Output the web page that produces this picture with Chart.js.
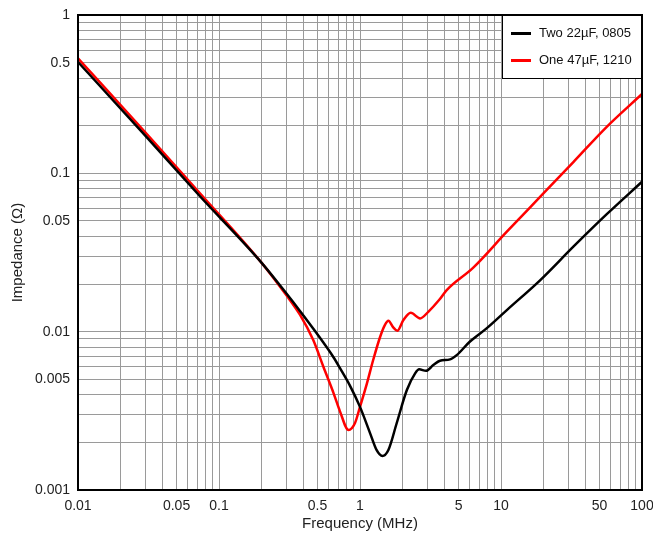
<!DOCTYPE html>
<html><head><meta charset="utf-8">
<script src="https://cdn.jsdelivr.net/npm/chart.js@4.4.0/dist/chart.umd.min.js"></script>
<style>html,body{margin:0;padding:0;background:#fff}</style>
</head><body>
<canvas id="c" width="653" height="535"></canvas>
<script>
const seriesNames = ['Two 22µF, 0805', 'One 47µF, 1210'];
const seriesColors = ['#000000', '#ff0000'];

const freqBlack = [0.01, 0.03, 0.073, 0.2, 0.3, 0.375, 0.49, 0.65, 0.72, 0.85, 1.0, 1.18, 1.31, 1.44, 1.59, 1.82, 2.15, 2.46, 2.63, 2.94, 3.31, 3.69, 4.35, 4.85, 6.0, 7.9, 11, 19, 32.6, 56, 100];
const zBlack = [0.505, 0.173, 0.0719, 0.0273, 0.01746, 0.01351, 0.00983, 0.00687, 0.00590, 0.00455, 0.00335, 0.00228, 0.00179, 0.00164, 0.00179, 0.00264, 0.00428, 0.00545, 0.00578, 0.00566, 0.00615, 0.00655, 0.00668, 0.00711, 0.00864, 0.01049, 0.01369, 0.02118, 0.0344, 0.0550, 0.0885];

const freqRed = [0.01, 0.03, 0.073, 0.2, 0.3, 0.375, 0.466, 0.55, 0.65, 0.72, 0.83, 0.92, 1.0, 1.12, 1.24, 1.39, 1.5, 1.59, 1.72, 1.84, 2.03, 2.29, 2.67, 3.05, 3.65, 4.12, 6.36, 11, 19, 32.6, 56, 100];
const zRed = [0.533, 0.1816, 0.0751, 0.0273, 0.01703, 0.0128, 0.00885, 0.0060, 0.00408, 0.00315, 0.00239, 0.00264, 0.00335, 0.00471, 0.00662, 0.00929, 0.0110, 0.01172, 0.01065, 0.01013, 0.01184, 0.01316, 0.01213, 0.01335, 0.0159, 0.01832, 0.0254, 0.0428, 0.0712, 0.1178, 0.196, 0.317];

const xTickLabels = ['0.01', '0.05', '0.1', '0.5', '1', '5', '10', '50', '100'];
const yTickLabels = ['0.001', '0.005', '0.01', '0.05', '0.1', '0.5', '1'];
const xRange = [0.01, 100];
const yRange = [0.001, 1];

function logGridTicks(min, max) {
  const t = [];
  for (let e = Math.floor(Math.log10(min)); e <= Math.ceil(Math.log10(max)); e++) {
    for (let m = 1; m <= 9; m++) {
      const v = m * Math.pow(10, e);
      if (v >= min * 0.9999 && v <= max * 1.0001) t.push({ value: v });
    }
  }
  return t;
}
function labelFor(v, labels) {
  for (const l of labels) {
    if (Math.abs(Math.log10(parseFloat(l)) - Math.log10(v)) < 1e-6) return l;
  }
  return '';
}
function pts(xs, ys) { return xs.map((x, i) => ({ x: x, y: ys[i] })); }

const FONT = '"Liberation Sans", Arial, Helvetica, sans-serif';
Chart.defaults.font.family = FONT;

const framePlugin = {
  id: 'frame',
  afterDatasetsDraw(chart) {
    const { ctx, chartArea: a } = chart;
    ctx.save();
    const lw = 140, lh = 63;
    const lx = a.right - lw, ly = a.top;
    ctx.fillStyle = '#fff';
    ctx.fillRect(lx, ly, lw, lh);
    ctx.strokeStyle = '#000';
    ctx.lineWidth = 1;
    ctx.strokeRect(lx + 0.5, ly + 0.5, lw, lh);
    chart.data.datasets.forEach((ds, i) => {
      const y = ly + 18.5 + i * 27;
      ctx.strokeStyle = ds.borderColor;
      ctx.lineWidth = 3;
      ctx.beginPath();
      ctx.moveTo(lx + 9, y);
      ctx.lineTo(lx + 29, y);
      ctx.stroke();
      ctx.fillStyle = '#111';
      ctx.font = '13px ' + FONT;
      ctx.textBaseline = 'middle';
      ctx.textAlign = 'left';
      ctx.fillText(ds.label, lx + 37, y);
    });
    ctx.strokeStyle = '#000';
    ctx.lineWidth = 2;
    ctx.strokeRect(a.left, a.top, a.right - a.left, a.bottom - a.top);
    ctx.restore();
  }
};

new Chart(document.getElementById('c'), {
  type: 'line',
  data: {
    datasets: [
      { label: seriesNames[0], data: pts(freqBlack, zBlack), borderColor: seriesColors[0], borderWidth: 2.5, pointRadius: 0, cubicInterpolationMode: 'monotone', fill: false },
      { label: seriesNames[1], data: pts(freqRed, zRed), borderColor: seriesColors[1], borderWidth: 2.5, pointRadius: 0, cubicInterpolationMode: 'monotone', fill: false }
    ]
  },
  options: {
    responsive: false,
    animation: false,
    devicePixelRatio: 1,
    layout: { padding: { top: 15, right: 11, left: 0, bottom: 0 } },
    plugins: { legend: { display: false }, tooltip: { enabled: false } },
    scales: {
      x: {
        type: 'logarithmic', position: 'bottom', min: xRange[0], max: xRange[1],
        afterBuildTicks: s => { s.ticks = logGridTicks(xRange[0], xRange[1]); },
        afterFit: s => { s.height = 45; s.paddingLeft = 0; s.paddingRight = 0; },
        ticks: { autoSkip: false, maxRotation: 0, minRotation: 0, padding: 8, color: '#222', font: { size: 14 },
          callback: v => labelFor(v, xTickLabels) },
        grid: { color: '#9a9a9a', lineWidth: 1, drawTicks: false },
        border: { display: false },
        title: { display: true, text: 'Frequency (MHz)', color: '#222', font: { size: 15 }, padding: { top: 0, bottom: 2 } }
      },
      y: {
        type: 'logarithmic', position: 'left', min: yRange[0], max: yRange[1],
        afterBuildTicks: s => { s.ticks = logGridTicks(yRange[0], yRange[1]); },
        afterFit: s => { s.width = 78; s.paddingTop = 0; s.paddingBottom = 0; },
        ticks: { autoSkip: false, padding: 8, color: '#222', font: { size: 14 },
          callback: v => labelFor(v, yTickLabels) },
        grid: { color: '#9a9a9a', lineWidth: 1, drawTicks: false },
        border: { display: false },
        title: { display: true, text: 'Impedance (Ω)', color: '#222', font: { size: 15 }, padding: { top: 9, bottom: 0 } }
      }
    }
  },
  plugins: [framePlugin]
});
</script>
</body></html>
